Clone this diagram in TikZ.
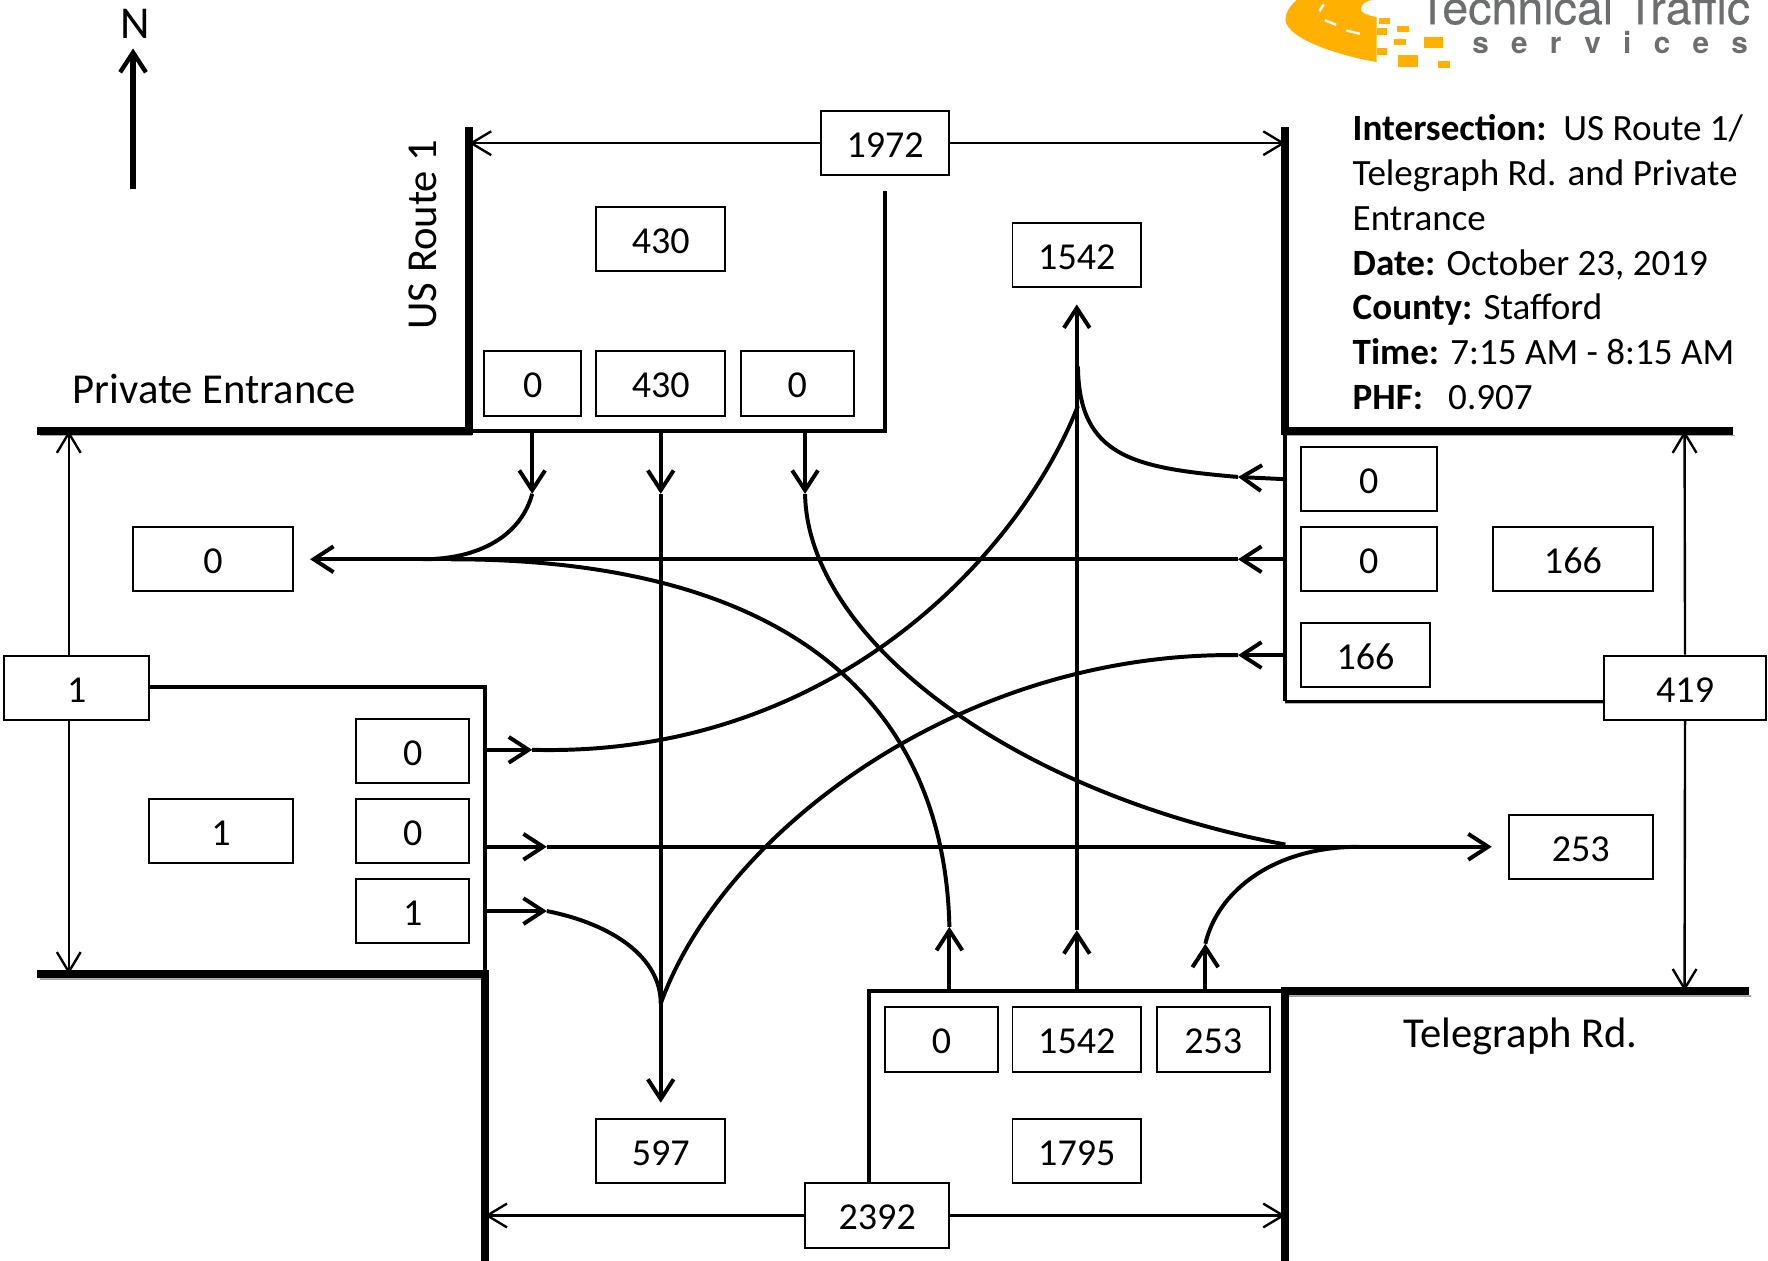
\documentclass[tikz,border=0pt]{standalone}
\usepackage{fontspec}
\setmainfont{Carlito}
\newfontfamily\logofont[FakeBold=0.4]{TeX Gyre Heros}
\newfontfamily\logospaced[LetterSpace=75]{TeX Gyre Heros}
\usetikzlibrary{arrows.meta,positioning}
\definecolor{logoorange}{HTML}{FFB000}
\definecolor{logogray}{HTML}{6D6E70}

\begin{document}
\begin{tikzpicture}[x=0.01cm, y=-0.01cm,
    box/.style={draw, fill=white, line width=0.5pt, minimum width=#1 cm, minimum height=0.57cm, inner sep=0pt, text height=7.2pt, text depth=0pt, font=\fontsize{9.6}{11}\selectfont},
    road/.style={line width=2pt, preaction={draw=black!35, transform canvas={xshift=0.6pt, yshift=-1.2pt}}},
    lane/.style={line width=1pt},
    move/.style={line width=1pt, -{Straight Barb[length=5pt, width=6.5pt, line width=1pt]}},
    span/.style={line width=0.6pt, -{Straight Barb[length=5pt, width=6pt, line width=0.6pt]}},
    label/.style={font=\fontsize{10.75}{13}\selectfont}]
    \useasboundingbox (0,0) rectangle (1568,1118);

    % logo
    \begin{scope}
    \clip (0,0) rectangle (1568,1118);
    \fill[logoorange] (1150,0) .. controls (1143,6) and (1140,12) .. (1140,18) .. controls (1142,35) and (1190,50) .. (1221,55) -- (1221,15) .. controls (1212,14) and (1205,10) .. (1207,7) .. controls (1208,3) and (1213,0) .. (1218,0) -- cycle;
    \fill[logoorange] (1223,16) rectangle (1233,21);
    \fill[logoorange] (1239,23) rectangle (1250,28);
    \fill[logoorange] (1221,25) rectangle (1230,31);
    \fill[logoorange] (1236,35) rectangle (1247,40);
    \fill[logoorange] (1263,33) rectangle (1280,43);
    \fill[logoorange] (1221,43) rectangle (1230,49);
    \fill[logoorange] (1240,49) rectangle (1258,59);
    \fill[logoorange] (1275,54) rectangle (1286,60);
    \draw[white, line width=0.6pt] (1170,10) -- (1174,4);
    \draw[white, line width=0.6pt] (1175,18) -- (1185,22);
    \draw[white, line width=0.6pt] (1194,27) -- (1206,30);
    \node[anchor=base, text=logogray, font=\logofont\fontsize{11.75}{12}\selectfont, inner sep=0pt] (logotitle) at (1405,21.5) {Technical Traffic};
    \node[anchor=base, text=logogray, font=\logospaced\bfseries\fontsize{7.5}{8}\selectfont, inner sep=0pt] (logosub) at (1428,47.5) {services};
    \end{scope}

    % north arrow
    \node[font=\fontsize{11.5}{13}\selectfont, inner sep=0pt] (north) at (120,21) {N};
    \coordinate (northfoot) at (118,168);
    \coordinate (northtip) at (118,43);
    \draw[line width=1.3pt, -{Straight Barb[length=5pt, width=6.5pt, line width=1.1pt]}] (northfoot) -- (northtip);

    % road edges
    \draw[road] (33,382) -- (416,382) -- (416,113);
    \draw[road] (1140,113) -- (1140,382) -- (1537,382);
    \draw[road] (33,864) -- (430,864) -- (430,1118);
    \draw[road] (1551,879) -- (1140,879) -- (1140,1118);

    % lane box outlines
    \draw[lane] (416,382) -- (785,382) -- (785,169);
    \draw[lane] (1140,382) -- (1140,622);
    \draw[line width=0.7pt, preaction={draw=black!30, transform canvas={yshift=-0.5pt}}] (1140,622) -- (1423,622);
    \draw[lane] (132,609) -- (430,609) -- (430,864);
    \draw[lane] (1140,879) -- (771,879) -- (771,1049);

    % junction points
    \coordinate (nleftin) at (472,382);
    \coordinate (nleft) at (472,438);
    \coordinate (nthruin) at (586,382);
    \coordinate (nthru) at (586,438);
    \coordinate (nrightin) at (714,382);
    \coordinate (nright) at (714,438);
    \coordinate (etopin) at (1140,425);
    \coordinate (etop) at (1098,423);
    \coordinate (emidin) at (1140,496);
    \coordinate (emid) at (1098,496);
    \coordinate (elowin) at (1140,581);
    \coordinate (elow) at (1098,581);
    \coordinate (wtopin) at (430,665);
    \coordinate (wtop) at (472,665);
    \coordinate (wmidin) at (430,751);
    \coordinate (wmid) at (485,751);
    \coordinate (wlowin) at (430,808);
    \coordinate (wlow) at (485,808);
    \coordinate (sleftin) at (842,879);
    \coordinate (sleft) at (842,822);
    \coordinate (sthruin) at (955,879);
    \coordinate (sthru) at (955,825);
    \coordinate (srightin) at (1069,879);
    \coordinate (sright) at (1069,837);
    \coordinate (westmerge) at (375,496);
    \coordinate (westtip) at (275,496);
    \coordinate (westcurve) at (400,496);
    \coordinate (southmerge) at (586,890);
    \coordinate (southtip) at (586,978);
    \coordinate (northmerge) at (956,325);
    \coordinate (northleft) at (956,360);
    \coordinate (northtop) at (955,270);
    \coordinate (eastin) at (1140,749);
    \coordinate (eastmerge) at (1205,751);
    \coordinate (easttip) at (1323,751);

    % turning movements
    \draw[move] (nleftin) -- (nleft);
    \draw[move] (nthruin) -- (nthru);
    \draw[move] (nrightin) -- (nright);
    \draw[move] (etopin) -- (etop);
    \draw[move] (emidin) -- (emid);
    \draw[move] (elowin) -- (elow);
    \draw[move] (wtopin) -- (wtop);
    \draw[move] (wmidin) -- (wmid);
    \draw[move] (wlowin) -- (wlow);
    \draw[move] (sleftin) -- (sleft);
    \draw[move] (sthruin) -- (sthru);
    \draw[move] (srightin) -- (sright);
    \draw[lane] (nleft) .. controls (462,475) and (425,496) .. (westmerge);
    \draw[lane] (nright) .. controls (716,565) and (895,703) .. (eastin);
    \draw[move] (nthru) -- (southtip);
    \draw[move] (emid) -- (westtip);
    \draw[lane] (westcurve) .. controls (720,496) and (838,640) .. (sleft);
    \draw[move] (sthru) -- (northtop);
    \draw[lane] (etop) .. controls (1005,415) and (957,405) .. (northmerge);
    \draw[lane] (wtop) .. controls (740,672) and (905,490) .. (northleft);
    \draw[move] (wmid) -- (easttip);
    \draw[lane] (wlow) .. controls (545,820) and (586,850) .. (southmerge);
    \draw[lane] (elow) .. controls (850,578) and (640,740) .. (southmerge);
    \draw[lane] (sright) .. controls (1080,790) and (1130,751) .. (eastmerge);

    % approach volumes
    \node[box=1.14] (ntotal) at (785,127) {1972};
    \node[box=1.14] (nout) at (586,212) {430};
    \node[box=1.14] (nnorth) at (955,226) {1542};
    \node[box=0.86] (nl) at (472.5,340) {0};
    \node[box=1.14] (nt) at (586,340) {430};
    \node[box=1.00] (nr) at (707,340) {0};
    \node[box=1.42] (wout) at (189,496) {0};
    \node[box=1.20] (etopbox) at (1214,425) {0};
    \node[box=1.20] (emidbox) at (1214,496) {0};
    \node[box=1.42] (ein) at (1395,496) {166};
    \node[box=1.14] (elowbox) at (1211,581) {166};
    \node[box=1.43] (etotal) at (1494.5,610) {419};
    \node[box=1.28] (wtotal) at (68,610) {1};
    \node[box=1.00] (wtopbox) at (366,666) {0};
    \node[box=1.00] (wmidbox) at (366,737) {0};
    \node[box=1.00] (wlowbox) at (366,808) {1};
    \node[box=1.28] (win) at (196,737) {1};
    \node[box=1.28] (eout) at (1402,751) {253};
    \node[box=1.00] (sl) at (835,922) {0};
    \node[box=1.14] (st) at (955,922) {1542};
    \node[box=1.00] (sr) at (1076,922) {253};
    \node[box=1.14] (sout) at (586,1021) {597};
    \node[box=1.14] (sin) at (955,1021) {1795};
    \node[box=1.28] (stotal) at (778,1078) {2392};

    % width spans
    \coordinate (spannw) at (416,127);
    \coordinate (spanne) at (1140,127);
    \coordinate (spanwn) at (61,382);
    \coordinate (spanws) at (61,864);
    \coordinate (spanen) at (1494,382);
    \coordinate (spanes) at (1494,879);
    \coordinate (spansw) at (430,1078);
    \coordinate (spanse) at (1140,1078);
    \draw[span] (ntotal) -- (spannw);
    \draw[span] (ntotal) -- (spanne);
    \draw[span] (wtotal.north -| spanwn) -- (spanwn);
    \draw[span] (wtotal.south -| spanws) -- (spanws);
    \draw[span] (etotal) -- (spanen);
    \draw[span] (etotal) -- (spanes);
    \draw[span] (stotal) -- (spansw);
    \draw[span] (stotal) -- (spanse);

    % street names
    \node[label, inner sep=0pt] (private) at (190,345) {Private Entrance};
    \node[label, inner sep=0pt] (telegraph) at (1348.5,919) {Telegraph Rd.};
    \node[label, inner sep=0pt, rotate=90] (route) at (375,208) {US Route 1};

    % intersection data
    \node[anchor=north west, align=left, inner sep=0pt, font=\fontsize{9.35}{11.3}\selectfont] (info) at (1199,101) {\textbf{Intersection:}\ \ US Route 1/\\Telegraph Rd. and Private\\Entrance\\\textbf{Date:} October 23, 2019\\\textbf{County:} Stafford\\\textbf{Time:} 7:15 AM - 8:15 AM\\\textbf{PHF:}\ \ \ 0.907};
\end{tikzpicture}
\end{document}
